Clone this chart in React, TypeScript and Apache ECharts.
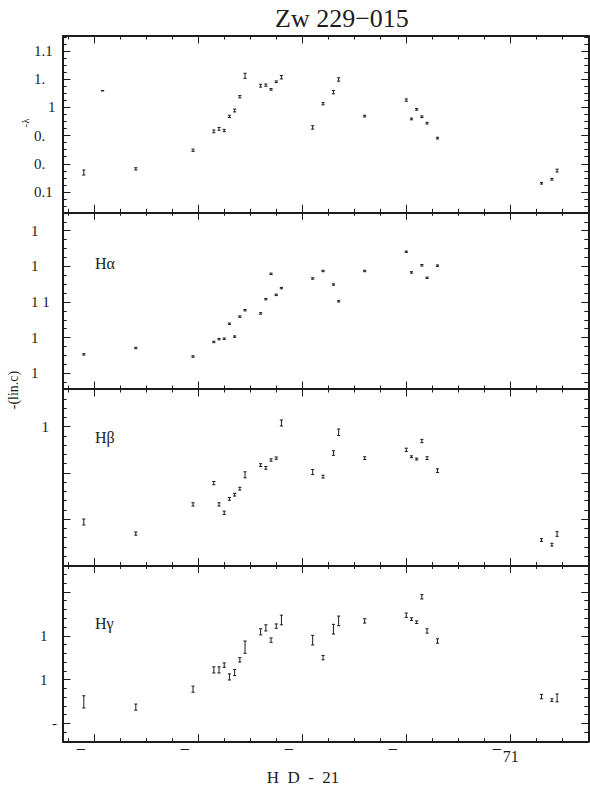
import React, { useEffect, useRef } from "react";
import * as echarts from "echarts";

// ---------- data ----------
const X_MIN = -30;
const X_MAX = 475;
const X_MAJOR = [0, 100, 200, 300, 400];
const X_MAJOR_LABELS = ["¯", "¯", "¯", "¯", "¯71"];

const TITLE = "Zw 229\u2212015";
const X_TITLE = "H\u00A0\u00A0D\u00A0\u00A0-\u00A0\u00A021";
const Y_TITLE = "-(lin.c)";
const P1_NAME = "-\u03BB";
const PANEL_NAMES = ["", "H\u03B1", "H\u03B2", "H\u03B3"];

// panel 1 (continuum)
const P1_X = [-10, 8, 40, 95, 115, 120, 125, 130, 135, 140, 145, 160, 165, 170, 175, 180, 210, 220, 230, 235, 260, 300, 305, 310, 315, 320, 330, 430, 440, 445];
const P1_Y = [0.69, 3.59, 0.82, 1.48, 2.15, 2.24, 2.18, 2.68, 2.89, 3.38, 4.12, 3.77, 3.79, 3.64, 3.91, 4.07, 2.29, 3.13, 3.54, 3.99, 2.69, 3.26, 2.59, 2.93, 2.67, 2.44, 1.91, 0.31, 0.45, 0.76];
const P1_E = [0.09, 0, 0.04, 0.04, 0.05, 0.05, 0.04, 0.04, 0.05, 0.04, 0.09, 0.05, 0.04, 0.03, 0.03, 0.06, 0.06, 0.04, 0.06, 0.06, 0.03, 0.04, 0.03, 0.03, 0.03, 0.03, 0.03, 0.03, 0.03, 0.05];
const P1_YTICKS = [0, 1, 2, 3, 4, 5];
const P1_YLABELS = ["0.1", "0.", "0.", "1", "1.", "1.1"];

// panel 2 (H alpha)
const P2_X = [-10, 40, 95, 115, 120, 125, 130, 135, 140, 145, 160, 165, 170, 175, 180, 210, 220, 230, 235, 260, 300, 305, 315, 320, 330];
const P2_Y = [0.53, 0.71, 0.47, 0.88, 0.96, 0.97, 1.39, 1.03, 1.59, 1.77, 1.68, 2.08, 2.79, 2.2, 2.39, 2.66, 2.87, 2.49, 2.02, 2.87, 3.41, 2.83, 3.03, 2.68, 3.02];
const P2_E = [0.02, 0.02, 0.02, 0.02, 0.02, 0.02, 0.02, 0.02, 0.02, 0.02, 0.02, 0.02, 0.02, 0.02, 0.02, 0.02, 0.02, 0.02, 0.02, 0.02, 0.02, 0.02, 0.02, 0.02, 0.02];
const P2_YTICKS = [0, 1, 2, 3, 4];
const P2_YLABELS = ["1", "1", "1 1", "1", "1"];

// panel 3 (H beta)
const P3_X = [-10, 40, 95, 115, 120, 125, 130, 135, 140, 145, 160, 165, 170, 175, 180, 210, 220, 230, 235, 260, 300, 305, 310, 315, 320, 330, 430, 440, 445];
const P3_Y = [-0.06, -0.31, 0.32, 0.78, 0.32, 0.14, 0.44, 0.53, 0.66, 0.96, 1.17, 1.11, 1.28, 1.32, 2.08, 1.02, 0.92, 1.43, 1.88, 1.32, 1.5, 1.35, 1.3, 1.69, 1.32, 1.05, -0.45, -0.55, -0.32];
const P3_E = [0.065, 0.035, 0.035, 0.035, 0.035, 0.035, 0.03, 0.03, 0.03, 0.065, 0.03, 0.03, 0.025, 0.025, 0.065, 0.055, 0.03, 0.05, 0.07, 0.03, 0.035, 0.02, 0.02, 0.035, 0.03, 0.04, 0.03, 0.03, 0.05];
const P3_YTICKS = [0, 1, 2];
const P3_YLABEL_TICKS = [2];
const P3_YLABELS = ["1"];

// panel 4 (H gamma)
const P4_X = [-10, 40, 95, 115, 120, 125, 130, 135, 140, 145, 160, 165, 170, 175, 180, 210, 220, 230, 235, 260, 300, 305, 310, 315, 320, 330, 430, 440, 445];
const P4_Y = [0.49, 0.37, 0.78, 1.22, 1.22, 1.33, 1.06, 1.16, 1.45, 1.74, 2.09, 2.18, 1.9, 2.22, 2.36, 1.9, 1.5, 2.15, 2.34, 2.34, 2.47, 2.38, 2.31, 2.89, 2.11, 1.88, 0.61, 0.53, 0.58];
const P4_E = [0.14, 0.07, 0.07, 0.07, 0.07, 0.05, 0.07, 0.07, 0.05, 0.14, 0.07, 0.07, 0.05, 0.05, 0.11, 0.11, 0.05, 0.11, 0.11, 0.05, 0.05, 0.03, 0.03, 0.05, 0.05, 0.05, 0.05, 0.03, 0.09];
const P4_YTICKS = [0, 1, 2, 3];
const P4_YLABEL_TICKS = [0, 1, 2];
const P4_YLABELS = ["-", "1", "1"];

// ---------- style / layout ----------
const FONT = "Liberation Serif, Times New Roman, serif";
const INK = "#1c1c1c";
const GRID_LEFT = 63;
const GRID_WIDTH = 525.3;

function steps(a: number, b: number, s: number): number[] {
  const out: number[] = [];
  const n = Math.round((b - a) / s);
  for (let i = 0; i <= n; i++) out.push(Math.round((a + i * s) * 1000) / 1000);
  return out;
}

type Panel = {
  top: number;
  height: number;
  ymin: number;
  ymax: number;
  major: number[];
  minor: number[];
  labelTicks: number[];
  labels: string[];
  labelMargin: number;
  shift: number;
  shiftIdx: number;
  xs: number[];
  ys: number[];
  es: number[];
};

const panels: Panel[] = [
  {
    top: 36, height: 176.3, ymin: -0.721, ymax: 5.533,
    major: P1_YTICKS, minor: steps(-0.5, 5.5, 0.25),
    labelTicks: P1_YTICKS, labels: P1_YLABELS, labelMargin: 29, shift: 14, shiftIdx: 3,
    xs: P1_X, ys: P1_Y, es: P1_E,
  },
  {
    top: 212.3, height: 176.7, ymin: -0.44, ymax: 4.516,
    major: P2_YTICKS, minor: steps(-0.25, 4.5, 0.25),
    labelTicks: P2_YTICKS, labels: P2_YLABELS, labelMargin: 32, shift: 0, shiftIdx: -1,
    xs: P2_X, ys: P2_Y, es: P2_E,
  },
  {
    top: 389, height: 176.5, ymin: -1.0, ymax: 2.814,
    major: P3_YTICKS, minor: steps(-0.8, 2.8, 0.2),
    labelTicks: P3_YLABEL_TICKS, labels: P3_YLABELS, labelMargin: 21.5, shift: 0, shiftIdx: -1,
    xs: P3_X, ys: P3_Y, es: P3_E,
  },
  {
    top: 565.5, height: 176.2, ymin: -0.42, ymax: 3.605,
    major: P4_YTICKS, minor: steps(-0.4, 3.6, 0.2),
    labelTicks: P4_YLABEL_TICKS, labels: P4_YLABELS, labelMargin: 23, shift: 12, shiftIdx: 0,
    xs: P4_X, ys: P4_Y, es: P4_E,
  },
];

const X_MINOR = steps(-25, 450, 25);

const renderErr = (params: any, api: any) => {
  const x = api.value(0);
  const y = api.value(1);
  const e = api.value(2);
  const p1 = api.coord([x, y + e]);
  const p2 = api.coord([x, y - e]);
  const c = 1.6;
  const st = { stroke: INK, lineWidth: 1 };
  return {
    type: "group",
    children: [
      { type: "line", shape: { x1: p1[0], y1: p1[1], x2: p2[0], y2: p2[1] }, style: st },
      { type: "line", shape: { x1: p1[0] - c, y1: p1[1], x2: p1[0] + c, y2: p1[1] }, style: st },
      { type: "line", shape: { x1: p2[0] - c, y1: p2[1], x2: p2[0] + c, y2: p2[1] }, style: st },
    ],
  };
};

function buildOption() {
  const grid: any[] = [];
  const xAxis: any[] = [];
  const yAxis: any[] = [];
  const series: any[] = [];
  const frameLine = { show: true, onZero: false, lineStyle: { color: INK, width: 2 } };
  const noLine = { show: false, onZero: false };
  const tickStyle = { color: INK, width: 1 };

  panels.forEach((p, i) => {
    const g = { left: GRID_LEFT, width: GRID_WIDTH, top: p.top, height: p.height, outerBoundsMode: "none", containLabel: false };
    grid.push({ ...g }, { ...g });
    const gA = 2 * i;
    const gB = 2 * i + 1;
    const isLast = i === panels.length - 1;

    const xBase = { type: "value", min: X_MIN, max: X_MAX, splitLine: { show: false } };
    xAxis.push({
      ...xBase, gridIndex: gA, position: "bottom", axisLine: frameLine,
      axisTick: { show: true, inside: true, length: 7.5, customValues: X_MAJOR, lineStyle: tickStyle },
      axisLabel: isLast
        ? {
            show: true, customValues: X_MAJOR, margin: 7, color: INK,
            fontFamily: FONT, fontSize: 16,
            formatter: (v: number) => {
              const idx = X_MAJOR.findIndex((u) => Math.abs(u - v) < 1e-6);
              const t = idx >= 0 ? X_MAJOR_LABELS[idx] : "";
              const m = t.slice(0, 1);
              const d = t.slice(1);
              return `{m|${m}}{d|${d || " "}}{e| }`;
            },
            rich: {
              m: { fontFamily: FONT, fontSize: 16, color: INK, width: 10, align: "center", lineHeight: 16 },
              d: { fontFamily: FONT, fontSize: 16, color: INK, width: 18, align: "left", lineHeight: 16 },
              e: { fontFamily: FONT, fontSize: 16, width: 9, lineHeight: 16 },
            },
          }
        : { show: false },
    });
    xAxis.push({
      ...xBase, gridIndex: gA, position: "top", axisLine: frameLine,
      axisTick: { show: true, inside: true, length: 7.5, customValues: X_MAJOR, lineStyle: tickStyle },
      axisLabel: { show: false },
    });
    xAxis.push({
      ...xBase, gridIndex: gB, position: "bottom", axisLine: noLine,
      axisTick: { show: true, inside: true, length: 3.5, customValues: X_MINOR, lineStyle: tickStyle },
      axisLabel: { show: false },
    });
    xAxis.push({
      ...xBase, gridIndex: gB, position: "top", axisLine: noLine,
      axisTick: { show: true, inside: true, length: 3.5, customValues: X_MINOR, lineStyle: tickStyle },
      axisLabel: { show: false },
    });

    const yBase = { type: "value", min: p.ymin, max: p.ymax, splitLine: { show: false } };
    const labels = p.labels;
    const lt = p.labelTicks;
    yAxis.push({
      ...yBase, gridIndex: gA, position: "left", axisLine: frameLine,
      axisTick: { show: true, inside: true, length: 7.5, customValues: p.major, lineStyle: tickStyle },
      axisLabel: {
        show: true, customValues: lt, margin: p.labelMargin, align: "left", color: INK,
        fontFamily: FONT, fontSize: 15,
        formatter: (v: number) => {
          const idx = lt.findIndex((u) => Math.abs(u - v) < 1e-6);
          if (idx < 0) return "";
          const t = labels[idx];
          return idx === p.shiftIdx ? `{s|${t}}` : `{n|${t}}`;
        },
        rich: {
          n: { fontFamily: FONT, fontSize: 15, color: INK },
          s: { fontFamily: FONT, fontSize: 15, color: INK, padding: [0, 0, 0, p.shift] },
        },
      },
    });
    yAxis.push({
      ...yBase, gridIndex: gA, position: "right", axisLine: frameLine,
      axisTick: { show: true, inside: true, length: 7, customValues: p.major, lineStyle: tickStyle },
      axisLabel: { show: false },
    });
    yAxis.push({
      ...yBase, gridIndex: gB, position: "left", axisLine: noLine,
      axisTick: { show: true, inside: true, length: 3.7, customValues: p.minor, lineStyle: tickStyle },
      axisLabel: { show: false },
    });
    yAxis.push({
      ...yBase, gridIndex: gB, position: "right", axisLine: noLine,
      axisTick: { show: true, inside: true, length: 4, customValues: p.minor, lineStyle: tickStyle },
      axisLabel: { show: false },
    });

    series.push({
      type: "custom",
      xAxisIndex: 4 * i,
      yAxisIndex: 4 * i,
      renderItem: renderErr,
      encode: { x: 0, y: 1 },
      data: p.xs.map((x, k) => [x, p.ys[k], p.es[k]]),
      silent: true,
    });
  });

  const graphic: any[] = [
    {
      type: "text", x: 275, y: 18,
      style: { text: TITLE, fontFamily: FONT, fontSize: 26, fill: INK, align: "left", verticalAlign: "middle" },
    },
    {
      type: "text", x: 303, y: 777,
      style: { text: X_TITLE, fontFamily: FONT, fontSize: 17, fill: INK, align: "center", verticalAlign: "middle" },
    },
    {
      type: "text", x: 13, y: 390, rotation: Math.PI / 2,
      style: { text: Y_TITLE, fontFamily: FONT, fontSize: 14, fill: INK, align: "center", verticalAlign: "middle" },
    },
    {
      type: "text", x: 25, y: 123, rotation: Math.PI / 2,
      style: { text: P1_NAME, fontFamily: FONT, fontSize: 11, fill: INK, align: "center", verticalAlign: "middle" },
    },
  ];
  const nameY = [0, 263, 437, 623];
  PANEL_NAMES.forEach((n, i) => {
    if (!n) return;
    graphic.push({
      type: "text", x: 95, y: nameY[i],
      style: { text: n, fontFamily: FONT, fontSize: 16, fill: INK, align: "left", verticalAlign: "middle" },
    });
  });

  return {
    animation: false,
    backgroundColor: "#ffffff",
    grid,
    xAxis,
    yAxis,
    series,
    graphic,
  };
}

export default function App() {
  const ref = useRef<HTMLDivElement>(null);
  useEffect(() => {
    if (!ref.current) return;
    const chart = echarts.init(ref.current, undefined, { renderer: "svg" });
    chart.setOption(buildOption() as any);
    return () => chart.dispose();
  }, []);
  return (
    <div
      ref={ref}
      style={{ position: "fixed", left: 0, top: 0, width: 590, height: 787, background: "#fff" }}
    />
  );
}
